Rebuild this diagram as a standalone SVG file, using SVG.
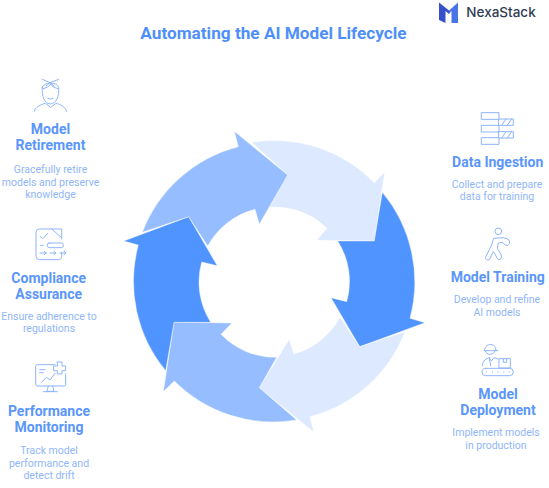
<svg xmlns="http://www.w3.org/2000/svg" width="549" height="488" viewBox="0 0 549 488">
<style>
text{font-family:Roboto,"Liberation Sans",sans-serif;text-anchor:middle}
.title{font-size:17.2px;font-weight:700;fill:#4f8ffb}
.h{font-size:14px;font-weight:700;fill:#5a96fb}
.d{font-size:10.5px;fill:#8fb6fb}
.dark{fill:#5094ff}.mid{fill:#96bdff}.light{fill:#dce9ff}
.arrow{stroke:#fff;stroke-width:.4;stroke-linejoin:miter}
.ic{fill:none;stroke:#8db5fb;stroke-width:3;stroke-linecap:round;stroke-linejoin:round}
</style>
<rect width="549" height="488" fill="#fff"/>
<text class="title" x="273.5" y="38.5">Automating the AI Model Lifecycle</text>
<g id="logo">
<path d="M439 2.5L449 10.5V14L445.5 11V23L439 20Z" fill="#3550c8"/>
<path d="M458 2.5V23H451.5V11L449 14V10.5Z" fill="#4a74ea"/>
<text x="501" y="17" style="font-family:Inter,Roboto,sans-serif;font-size:13.5px;font-weight:500;fill:#2f3c55">NexaStack</text>
</g>
<g id="connectors">
<path class="arrow light" d="M251.7,142.3A140,140 0 0 1 374.3,182.7L384.7,172L374.3,241L316.7,240.3L327,228.3A75,75 0 0 0 269.3,207.3L287.7,175Z"/>
<path class="arrow dark" d="M337.7,241L374.3,241L382.3,192.3A140,140 0 0 1 410,318.3L425,322.7L359.7,346.7L331,297.7L346.7,301.7A75,75 0 0 0 337.7,241Z"/>
<path class="arrow light" d="M340,317.3L359.7,346.7L405,331.7A140,140 0 0 1 310,416.7L313.7,432L259.3,387.7L289.3,339.3L293.7,354A75,75 0 0 0 340,317.3Z"/>
<path class="arrow mid" d="M276.7,357.3L259.3,387.7L296.7,420A140,140 0 0 1 174.3,381L163.3,391.7L174,322.3L232,323L221,334.3A75,75 0 0 0 276.7,357.3Z"/>
<path class="arrow dark" d="M210.7,322.3L174,322.3L165.7,370.7A140,140 0 0 1 138.3,245L123.7,241L188.7,216.7L217.3,265.7L201.7,262A75,75 0 0 0 210.7,322.3Z"/>
<path class="arrow mid" d="M142.3,232.3L188.7,216.7L207.7,246A75,75 0 0 1 255,209.3L259.3,224.3L287.7,175L234.3,131.3L238.3,146.7A140,140 0 0 0 142.3,232.3Z"/>
</g>
<g id="model-retirement">
<g class="ic" transform="translate(0,70) scale(.3333)">
<path d="M127 52C130 35 172 35 176 52C178 78 170 100 151 102C132 100 125 78 127 52Z"/>
<path d="M127 28L150 38L176 28M150 38L138 48M150 38L162 48M130 56C142 52 150 48 152 42C156 50 166 54 175 56"/>
<path d="M143 85Q151 90 159 85"/>
<path d="M103 124C106 110 122 104 136 100L152 112L168 100C182 104 196 110 200 124"/>
</g>
<text class="h" x="50.5" y="133.5">Model</text><text class="h" x="50.5" y="149.5">Retirement</text>
<text class="d" x="50.5" y="173">Gracefully retire</text><text class="d" x="50.5" y="186">models and preserve</text><text class="d" x="50.5" y="198">knowledge</text>
</g>
<g id="compliance-assurance">
<g class="ic" transform="translate(0,215) scale(.3333)">
<path d="M185 72V42H118Q108 42 108 52V124Q108 134 118 134H176Q185 134 185 124V112"/>
<path d="M155 42L185 68"/>
<path d="M120 64L128 71L143 55M122 91H130"/>
<rect x="142" y="84" width="48" height="14" rx="6"/>
<path d="M120 114H138M133 109L139 114L133 119M150 114H167M162 109L168 114L162 119M180 114H197M192 109L198 114L192 119"/>
</g>
<text class="h" x="48.7" y="282.5">Compliance</text><text class="h" x="48.7" y="298.5">Assurance</text>
<text class="d" x="49" y="320">Ensure adherence to</text><text class="d" x="49" y="332">regulations</text>
</g>
<g id="performance-monitoring">
<g class="ic" transform="translate(0,350) scale(.3333)">
<path d="M165 44H112Q107 44 107 49V103Q107 108 112 108H192Q197 108 197 103V72"/>
<path d="M172 36H186V48H197V62H186V72H172V62H161V48H172Z"/>
<path d="M119 59H135M119 68H130M123 98L140 82L150 90L165 70"/>
<path d="M145 108L141 124H162L158 108M130 125H172"/>
</g>
<text class="h" x="49" y="415.5">Performance</text><text class="h" x="49" y="431.5">Monitoring</text>
<text class="d" x="49" y="454">Track model</text><text class="d" x="49" y="467">performance and</text><text class="d" x="49" y="479">detect drift</text>
</g>
<g id="data-ingestion">
<g class="ic" transform="translate(430,100) scale(.3333)">
<rect x="155" y="38" width="52" height="20"/><rect x="155" y="76" width="52" height="20"/><rect x="155" y="113" width="52" height="20"/>
<rect x="207" y="57" width="43" height="19"/><rect x="207" y="95" width="43" height="19"/>
<path d="M215 76L228 57M232 76L245 57M215 114L228 95M232 114L245 95"/>
</g>
<text class="h" x="497.7" y="166.5">Data Ingestion</text>
<text class="d" x="497" y="188">Collect and prepare</text><text class="d" x="497" y="200">data for training</text>
</g>
<g id="model-training">
<g class="ic" transform="translate(430,215) scale(.3333)">
<circle cx="205" cy="49" r="10"/>
<path d="M192 70L220 68Q232 70 238 76Q242 86 232 92Q222 90 218 82L205 84L202 100L214 120Q216 134 206 134Q200 132 196 118L190 110L178 134Q168 138 166 128L184 92Z"/>
</g>
<text class="h" x="497.7" y="281.5">Model Training</text>
<text class="d" x="497" y="303">Develop and refine</text><text class="d" x="497" y="316">AI models</text>
</g>
<g id="model-deployment">
<g class="ic" transform="translate(430,335) scale(.3333)">
<path d="M163 47C165 22 198 22 198 47H203M163 47H198M166 47C167 62 193 62 195 47"/>
<path d="M157 92C158 76 170 70 178 68L184 78L192 68L204 72M178 68L182 92"/>
<rect x="208" y="71" width="33" height="28"/><path d="M220 71V82H230V71"/>
<rect x="156" y="100" width="94" height="22" rx="11"/>
<path d="M169 111H170M187 111H188M204 111H205M221 111H222M237 111H238"/>
</g>
<text class="h" x="498" y="398.5">Model</text><text class="h" x="498" y="414.5">Deployment</text>
<text class="d" x="496" y="436">Implement models</text><text class="d" x="496" y="449">in production</text>
</g>
</svg>
